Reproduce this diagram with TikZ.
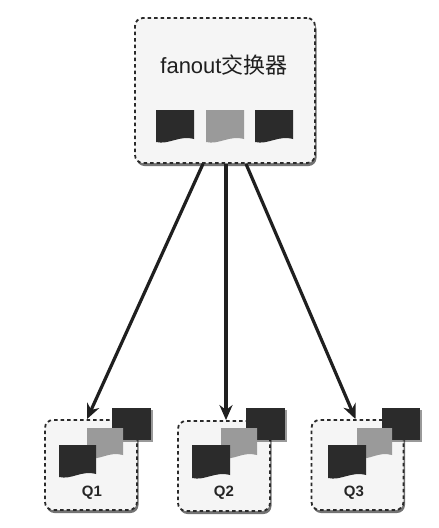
\documentclass[tikz,border=0pt]{standalone}
\usepackage{fontspec}
\setmainfont{Liberation Sans}
\newfontfamily\cjk{Noto Sans CJK SC}
\usetikzlibrary{arrows.meta,shadows}
\definecolor{darksq}{HTML}{2B2B2B}
\definecolor{graysq}{HTML}{9A9A9A}
\definecolor{boxfill}{HTML}{F5F5F5}
\definecolor{edgec}{HTML}{2A2A2A}
\newcommand\docsq[5]{%
  \fill[#5] (#1,#2) -- ({#1+#3},#2) -- ({#1+#3},{#2+#4-3}) .. controls ({#1+0.6*#3},{#2+#4-7}) and ({#1+0.35*#3},{#2+#4+3}) .. (#1,{#2+#4}) -- cycle;}
\begin{document}
\begin{tikzpicture}[x=1pt,y=-1pt,
  boxbase/.style={draw=edgec, line width=1.8pt, dash pattern=on 3.5pt off 3pt,
    rounded corners=8pt, fill=boxfill,
    drop shadow={shadow xshift=1.5pt, shadow yshift=-3pt, fill=black, opacity=0.55}},
  exch/.style={boxbase, minimum width=180pt, minimum height=145pt},
  qbox/.style={boxbase, minimum width=92pt, minimum height=90pt},
  arr/.style={draw=black!88, line width=3.2pt, -{Stealth[length=15pt,width=13pt]}},
  qlabel/.style={font=\bfseries\fontsize{15}{17}\selectfont, text=black!85},
  title/.style={font=\fontsize{22}{26}\selectfont, text=black!88}]
\useasboundingbox[fill=white] (0,0) rectangle (439,528);

% exchange box
\node[exch] (ex) at (225,90.5) {};
\node[title] (exl) at (224,65) {fanout{\cjk 交换器}};
\docsq{156}{110}{38}{32}{darksq}
\docsq{206}{110}{38}{32}{graysq}
\docsq{255}{110}{38}{32}{darksq}

% queues
\node[qbox] (q1) at (91,465) {};
\node[qbox] (q2) at (224,466) {};
\node[qbox] (q3) at (357.5,465) {};

\fill[darksq, drop shadow={shadow xshift=1.5pt, shadow yshift=-2pt, fill=black, opacity=0.4}] (112,408) rectangle (151,440);
\docsq{87}{428}{36}{30}{graysq}
\docsq{59}{445}{37}{32}{darksq}
\node[qlabel] (q1l) at (92,493) {Q1};

\fill[darksq, drop shadow={shadow xshift=1.5pt, shadow yshift=-2pt, fill=black, opacity=0.4}] (246,408) rectangle (285,440);
\docsq{221}{428}{36}{30}{graysq}
\docsq{192}{445}{38}{33}{darksq}
\node[qlabel] (q2l) at (224,493) {Q2};

\fill[darksq, drop shadow={shadow xshift=1.5pt, shadow yshift=-2pt, fill=black, opacity=0.4}] (382,408) rectangle (420,440);
\docsq{357}{428}{35}{30}{graysq}
\docsq{328}{445}{38}{33}{darksq}
\node[qlabel] (q3l) at (354,493) {Q3};

% arrows
\draw[arr] ([xshift=-22pt]ex.south) -- ([xshift=-4pt]q1.north);
\draw[arr] ([xshift=1pt]ex.south) -- ([xshift=2pt]q2.north);
\draw[arr] ([xshift=21pt]ex.south) -- ([xshift=-2pt]q3.north);
\end{tikzpicture}
\end{document}
